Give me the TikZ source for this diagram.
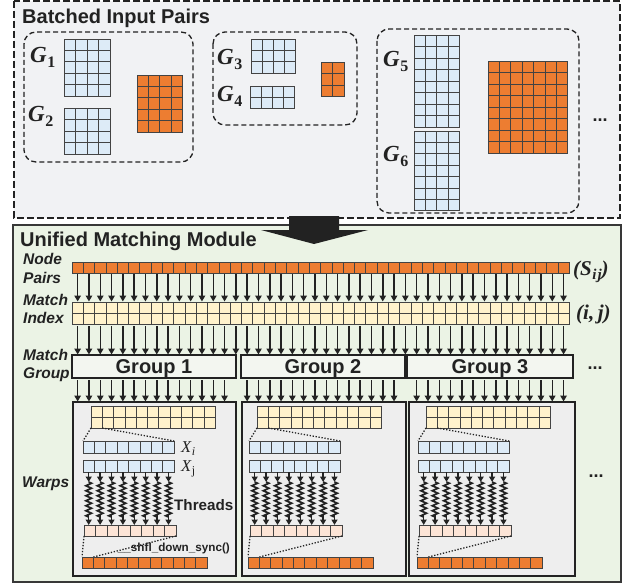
\documentclass[tikz,border=0pt]{standalone}
\usepackage{fontspec}
\newfontfamily\lsans{Liberation Sans}
\newfontfamily\lserif{Liberation Serif}
\usetikzlibrary{arrows.meta,decorations.pathmorphing}

\definecolor{topbg}{HTML}{F1F2F4}
\definecolor{modbg}{HTML}{EBF3E5}
\definecolor{cellblue}{HTML}{DDEBF7}
\definecolor{cellorange}{HTML}{ED7D31}
\definecolor{cellyellow}{HTML}{FFF2CC}
\definecolor{cellpink}{HTML}{FCE4D6}
\definecolor{warpbg}{HTML}{EEEEEE}
\definecolor{groupbg}{HTML}{F3F6F0}
\definecolor{ink}{HTML}{222222}

% graph name with a bold subscript
\newcommand\gsym[1]{{\lserif\bfseries\itshape G}\kern0.5pt\raisebox{-5pt}{\lserif\bfseries\fontsize{16}{17}\selectfont #1}}

% a block of cells: x0, y0, columns, rows, cell width, cell height, fill
\newcommand\cellgrid[7]{%
  \foreach \ci in {1,...,#3}{%
    \foreach \cj in {1,...,#4}{%
      \filldraw[gridline,fill=#7] ({#1+(\ci-1)*#5},{#2+(\cj-1)*#6}) rectangle ++(#5,#6);
    }%
  }%
}

% contents of one warp box (drawn at horizontal offset #1)
\newcommand\warpbody[1]{%
  \begin{scope}[xshift=#1pt]
    \cellgrid{91}{406}{11}{2}{11.3}{11}{cellyellow}
    \cellgrid{83}{441}{8}{1}{11.4}{12}{cellblue}
    \cellgrid{83}{460}{8}{1}{11.4}{12}{cellblue}
    \draw[dots] (91,428) -- (83,441);
    \draw[dots] (102.3,428) -- (174.2,441);
    \foreach \k in {0,...,7}{%
      \draw[thread] ({83+11.4*(\k+0.5)},472) -- ++(0,10);
      \draw[zig] ({83+11.4*(\k+0.5)},482) -- ++(0,35);
      \draw[thread] ({83+11.4*(\k+0.5)},515) -- ++(0,10);
    }
    \cellgrid{84}{525}{8}{1}{11.5}{11}{cellpink}
    \draw[dots] (84,536) -- (82,557);
    \draw[dots] (176,536) -- (93.4,557);
    \cellgrid{82}{557}{11}{1}{11.36}{11}{cellorange}
  \end{scope}%
}

% a bank of downward arrows over columns #1..#2 of the 44-column rows
\newcommand\arrowbank[4]{%
  \foreach \k in {#1,...,#2}{\draw[flow] ({72+11.3*(\k+0.5)},#3) -- ++(0,#4);}%
}

\begin{document}
\begin{tikzpicture}[x=1pt,y=-1pt,
  gridline/.style={draw=ink!85, line width=0.7pt},
  flow/.style={draw=ink, line width=1.5pt, -{Triangle[width=6.5pt,length=6pt]}},
  thread/.style={draw=ink, line width=1.4pt, -{Triangle[width=6pt,length=5.5pt]}},
  zig/.style={draw=ink, line width=1.7pt, decorate,
    decoration={zigzag, segment length=5pt, amplitude=2.8pt}},
  dots/.style={draw=ink, line width=1.3pt, dash pattern=on 1.3pt off 1.7pt},
  pairbox/.style={draw=ink, line width=1.3pt, dash pattern=on 5pt off 3pt, rounded corners=12pt},
  ttl/.style={font=\lsans\bfseries\fontsize{20}{22}\selectfont, text=ink, anchor=base west, inner sep=0pt},
  side/.style={font=\lsans\bfseries\itshape\fontsize{15.5}{17}\selectfont, text=ink, anchor=base west, inner sep=0pt},
  gname/.style={font=\fontsize{23}{25}\selectfont, text=ink, anchor=base west, inner sep=0pt},
  mlabel/.style={font=\lserif\bfseries\itshape\fontsize{21}{23}\selectfont, text=ink, anchor=base west, inner sep=0pt},
  xlabel/.style={font=\lserif\itshape\fontsize{16.5}{18}\selectfont, text=ink, anchor=base west, inner sep=0pt},
  more/.style={font=\lsans\bfseries\fontsize{18}{20}\selectfont, text=ink, inner sep=0pt},
  grouptxt/.style={font=\lsans\bfseries\fontsize{20}{22}\selectfont, text=ink, anchor=base, inner sep=0pt}]
\useasboundingbox (0,0) rectangle (625,586);

% ---------- batched input pairs ----------
\filldraw[fill=topbg, draw=ink, line width=2pt, dash pattern=on 7pt off 3pt] (14,1) rectangle (620,218);
\node[ttl] (batchtitle) at (22,24) {Batched Input Pairs};

\draw[pairbox] (24,32) rectangle (193,162);
\cellgrid{64}{39}{4}{5}{11.5}{11.4}{cellblue}
\cellgrid{64}{108}{4}{4}{11.5}{11.5}{cellblue}
\cellgrid{137}{75}{4}{5}{11.3}{11.4}{cellorange}
\node[gname] (g1) at (30,63) {\gsym{1}};
\node[gname] (g2) at (28,122) {\gsym{2}};

\draw[pairbox] (213,32) rectangle (357,125);
\cellgrid{251}{39}{4}{3}{11}{11.3}{cellblue}
\cellgrid{250}{86}{4}{2}{11.2}{11}{cellblue}
\cellgrid{321}{62}{2}{3}{11.5}{11.6}{cellorange}
\node[gname] (g3) at (217,65) {\gsym{3}};
\node[gname] (g4) at (217,102) {\gsym{4}};

\draw[pairbox] (377,29) rectangle (579,213);
\cellgrid{414}{35}{4}{8}{11.3}{11.5}{cellblue}
\cellgrid{414}{131}{4}{7}{11.3}{11.4}{cellblue}
\cellgrid{488}{61}{7}{8}{11.4}{11.5}{cellorange}
\node[gname] (g5) at (383,67) {\gsym{5}};
\node[gname] (g6) at (383,162) {\gsym{6}};
\node[more] (moretop) at (600,120) {...};

% ---------- unified matching module ----------
\filldraw[fill=modbg, draw=ink!90, line width=2pt] (13,225) rectangle (621,582);
\node[ttl] (modtitle) at (20,246) {Unified Matching Module};

\node[side] (lnode) at (23,265) {Node};
\node[side] (lpairs) at (23,283) {Pairs};
\node[side] (lmatch) at (23,305) {Match};
\node[side] (lindex) at (23,323) {Index};
\node[side] (lmatch2) at (23,360) {Match};
\node[side] (lgroup) at (23,378) {Group};
\node[side] (lwarps) at (22,487) {Warps};

% node pairs and match index rows
\cellgrid{72}{262}{44}{1}{11.3}{11.5}{cellorange}
\node[mlabel] (sij) at (573,275) {(S\kern0.5pt\raisebox{-4.5pt}{\fontsize{15}{16}\selectfont i\kern1pt j})};
\arrowbank{0}{43}{274}{27.5}
\cellgrid{72}{302}{44}{2}{11.3}{11.2}{cellyellow}
\node[mlabel] (ij) at (576,319) {(i,\,j)};
\arrowbank{0}{43}{326}{28.5}

% match groups
\filldraw[fill=groupbg, draw=ink, line width=1.5pt] (72,355) rectangle (236,378);
\filldraw[fill=groupbg, draw=ink, line width=1.5pt] (241,355) rectangle (405,378);
\filldraw[fill=groupbg, draw=ink, line width=1.5pt] (407,355) rectangle (573,378);
\node[grouptxt] (grp1) at (154,373) {Group 1};
\node[grouptxt] (grp2) at (323,373) {Group 2};
\node[grouptxt] (grp3) at (490,373) {Group 3};
\node[more] (moregrp) at (595,368) {...};
\arrowbank{0}{13}{380}{21.5}
\arrowbank{15}{28}{380}{21.5}
\arrowbank{30}{43}{380}{21.5}

% warps
\filldraw[fill=warpbg, draw=ink, line width=1.8pt] (73,402) rectangle (236,576);
\filldraw[fill=warpbg, draw=ink, line width=1.8pt] (242,402) rectangle (406,576);
\filldraw[fill=warpbg, draw=ink, line width=1.8pt] (409,402) rectangle (575,576);
\warpbody{0}
\warpbody{166}
\warpbody{335}
\node[xlabel] (xi) at (181,452) {X\kern0.5pt\raisebox{-3.5pt}{\fontsize{12}{13}\selectfont i}};
\node[xlabel] (xj) at (181,471) {X\kern0.5pt\raisebox{-3.5pt}{\upshape\fontsize{12}{13}\selectfont j}};
\node[side, font=\lsans\bfseries\fontsize{15.2}{17}\selectfont] (threads) at (174,510) {Threads};
\node[inner sep=0pt, anchor=base east, text=ink, font=\lsans\bfseries\fontsize{11.7}{13}\selectfont] (shfl) at (230,551) {\_\_shfl\_down\_sync()};
\node[more] (morewarp) at (596,476) {...};

% transfer arrow between the two panels
\fill[ink] (289,216) -- (339,216) -- (339,230) -- (368,230) -- (314,244) -- (261,230) -- (289,230) -- cycle;
\end{tikzpicture}
\end{document}
